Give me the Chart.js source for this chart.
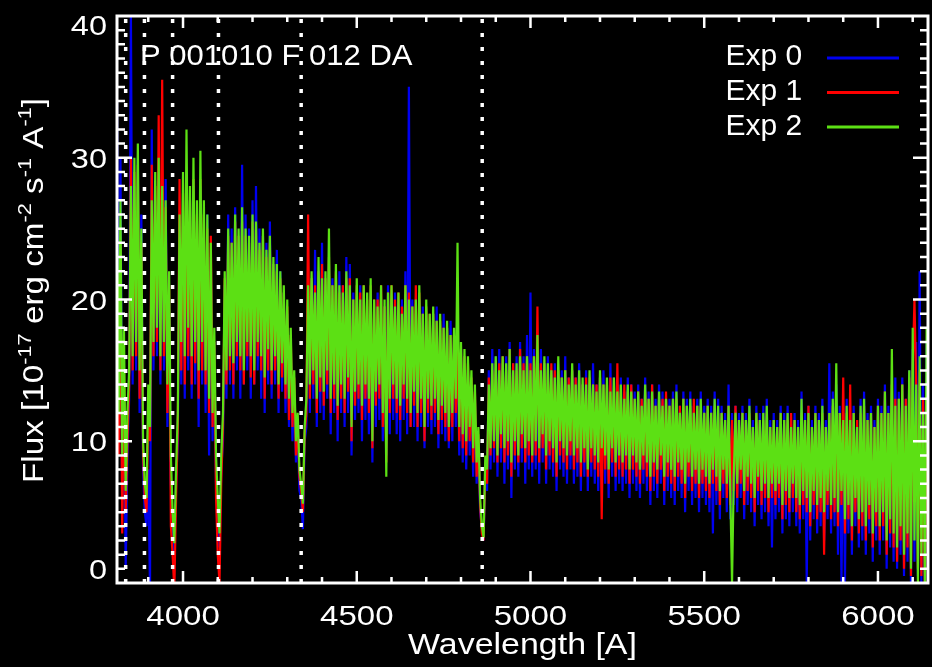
<!DOCTYPE html>
<html>
<head>
<meta charset="utf-8">
<title>P 001010 F 012 DA</title>
<script src="https://cdn.jsdelivr.net/npm/chart.js@4.4.1/dist/chart.umd.min.js"></script>
<style>
  html, body { margin: 0; padding: 0; background: #000; }
  #spec { display: block; }
</style>
</head>
<body>
<canvas id="spec" width="932" height="667"></canvas>
<script>
// ===== SPECTRUM DATA =====
// flux in 1e-17 erg/cm^2/s/A, one sample every 5 A from 3810 A
// (each row is 50 A)
const lambdaStart = 3810;
const lambdaStep = 5;

const fluxExp0 = [
  34, 10, 30, 5, 14, 1, 9, 13, 40.5, 14,
  28, 15, 30, 12, 26, 8, 5, 4, 8, -0.5,
  32, 15, 27, 16, 29, 14, 26, 15, 28.5, 11,
  20, 7, 4, 2, 7, 10, 25, 14, 27, 13,
  29, 15, 27, 13, 28, 14, 25.5, 11, 28, 14,
  25, 12, 26, 9, 23, 10, 17, 7, 5, 2.5,
  8, 10, 21, 13, 26, 14, 25, 13, 26.5, 15,
  24, 13, 29.5, 14, 26, 15, 25, 13, 27, 14,
  28, 15, 25, 13, 24.5, 12, 24, 14, 25.5, 13,
  22.5, 14, 23.5, 12, 22, 13.5, 20.5, 12, 19, 11,
  17, 10, 14, 8.5, 11, 6.5, 6, 3.8, 10, 11,
  20, 12, 21.5, 13, 23.5, 11, 22, 12, 24, 11.5,
  21, 13, 22.5, 10.5, 21.5, 12, 21, 10, 22, 12,
  21, 11, 23, 12, 22.5, 9, 20.5, 11.5, 20, 12,
  21, 10, 20, 11.5, 19.5, 10.5, 20.5, 8.5, 19.5, 11,
  20.5, 11.5, 20, 10, 19.5, 9, 21, 10.5, 20, 11.5,
  20.5, 10.5, 19.5, 10, 20, 11.5, 22, 10.5, 35, 11,
  20, 11, 19, 10, 20, 11, 19.5, 9.5, 19, 11,
  18.5, 10.5, 19, 11, 19.5, 9.5, 18, 10.5, 19, 10,
  18, 9.5, 18.5, 10, 17.5, 11, 17, 9, 16.5, 8.5,
  16, 8, 15, 9, 14, 7.5, 13, 7, 10, 5,
  4, 3, 8, 6.5, 15, 8, 16.5, 8.5, 16, 7.5,
  16.5, 8.5, 15.5, 7, 16, 8, 17, 6, 15.5, 8,
  16, 7.5, 17, 8.5, 16, 7, 17.5, 8, 20.5, 7.5,
  16.5, 8, 16, 7, 16.5, 8.5, 15.5, 7, 16, 8,
  15, 7.5, 15.5, 6.5, 14.5, 8, 15, 7.5, 16, 7,
  14.5, 8, 15, 7, 14.5, 7.5, 15.5, 6.5, 14, 7.5,
  15, 6.5, 14, 7.5, 15.5, 7, 14, 6.5, 14.5, 7.5,
  15, 7, 14, 6, 15.5, 7.5, 14.5, 6.5, 14, 7,
  14.5, 6.5, 13.5, 7, 14.5, 6, 14, 7, 13.5, 6.5,
  14, 6, 13, 7, 14.5, 6.5, 13.5, 5.5, 14, 6.5,
  13, 6, 14, 7, 13.5, 5.5, 13, 6.5, 13, 6,
  13.5, 5.5, 14, 6.5, 12.5, 6, 13.5, 5, 13, 6.5,
  13.5, 5.5, 12.5, 6, 13, 5, 13.5, 6, 12.5, 5.5,
  13, 5, 12.5, 3.5, 13.5, 5.5, 13, 4.5, 12.5, 6,
  12, 5, 14, 4.5, 12, 5.5, 12.5, 5, 12, 6,
  12.5, 4.5, 12, 5.5, 13, 5, 11.5, 4, 12.5, 5.5,
  12, 4.5, 12.5, 5, 13, 4, 11.5, 2.5, 12, 4.5,
  11.5, 5, 12.5, 3.5, 12, 4.5, 12.5, 4, 11.5, 5,
  12, 4, 11.5, 3.5, 13.5, 4.5, 12, 0, 12.5, 3,
  11.5, 4.5, 12.5, 3.5, 12, 4, 13, 3, 11.5, 4.5,
  15.5, 3.5, 13.5, 4, 14, 2, 12.5, 0, 12, 0,
  13, 3.5, 12, 2, 12.5, 4, 11.5, 2.5, 13, 3,
  13.5, 2, 12, 3.5, 12.5, 1.5, 11.5, 3, 13, 2,
  12.5, 3, 14, 1, 12.5, 2.5, 13, 1.5, 14.5, 1,
  13.5, 2, 14.5, 0.5, 13, 1.5, 15, 0, 16.5, 1.5,
  17, 0.5, 22, 0, 14, 0, 17
];

const fluxExp1 = [
  22, 9, 24, 3.5, 15, 5, 10, 14, 30, 15,
  29, 16, 29.5, 13, 24, 9, 6, 5, 12, 10,
  29.5, 16, 28, 17, 33, 15, 35.5, 16, 26.5, 12,
  21, 4, 2, -0.5, 6, 11, 28.5, 15, 27.5, 14,
  28, 16, 27, 14, 28.5, 15.5, 26, 13, 28.5, 15,
  26, 14, 25, 12, 24.5, 11, 17, 6, 2, 0,
  7, 11, 21.5, 14, 24.5, 15, 24, 14, 25.5, 16,
  24.5, 15, 25.5, 14, 24.5, 16, 24, 14.5, 25.5, 14,
  25, 16, 23.5, 15, 24.5, 13, 23, 15, 24, 14,
  22.5, 15, 22, 13, 21.5, 14.5, 20.5, 13, 19.5, 11.5,
  17.5, 11, 14.5, 9, 11.5, 7.5, 6.5, 5, 10.5, 12,
  26, 13, 21.5, 14, 21, 12, 22, 13.5, 22.5, 12.5,
  21.5, 14, 23, 12, 21, 13, 22, 11.5, 20.5, 13,
  21, 12, 21.5, 13.5, 21.5, 10, 20, 12.5, 21, 13,
  20.5, 11.5, 21, 13, 20, 12, 21, 9.5, 20, 12.5,
  20, 13, 21, 11, 19.5, 8.5, 20.5, 12, 21, 13,
  20, 12, 20.5, 11.5, 19.5, 13, 21, 12, 20.5, 11,
  19.5, 12.5, 21, 11, 20.5, 12, 19, 10, 19.5, 12,
  19, 11.5, 19, 12, 18.5, 10.5, 18.5, 11.5, 18, 11,
  18, 10, 17.5, 11, 17.5, 12, 17, 10, 16.5, 9.5,
  16, 9, 15.5, 10, 14.5, 8.5, 13.5, 7.5, 10.5, 5.5,
  3.5, 3, 8.5, 7, 14.5, 9, 15, 9.5, 15.5, 8.5,
  15.5, 9.5, 16, 8.5, 15, 9, 16.5, 7.5, 15.5, 9,
  15, 8.5, 16.5, 9.5, 15.5, 8.5, 16, 9, 15.5, 8.5,
  16, 9, 19.5, 8.5, 15.5, 9.5, 15.5, 8, 15, 9,
  15.5, 8.5, 15, 7.5, 15, 9, 14.5, 8.5, 15, 8,
  14.5, 9, 15, 8, 14.5, 8.5, 14.5, 7.5, 14, 8.5,
  14.5, 7.5, 14.5, 8.5, 14, 8, 14, 7.5, 14.5, 4.5,
  14, 8, 14, 7, 14.5, 8.5, 13.5, 7.5, 15.5, 8,
  13.5, 7.5, 14, 8, 13.5, 7, 14, 8, 13, 7.5,
  13.5, 7, 13, 8, 13.5, 7.5, 13, 6.5, 14, 7.5,
  12.5, 7, 13, 8, 13, 6.5, 13.5, 7.5, 12.5, 7,
  13, 6.5, 13, 7.5, 12.5, 7, 13, 6, 12.5, 7.5,
  12.5, 6.5, 13, 7, 12.5, 6, 12.5, 7, 12, 6.5,
  12.5, 6, 12, 7, 12.5, 6.5, 12, 5.5, 12, 7,
  11.5, 6, 12.5, 5.5, 11.5, 6.5, 12.5, 6, 11.5, 7,
  12, 5.5, 11.5, 6.5, 12, 6, 11, 5, 12, 6.5,
  11.5, 5.5, 11.5, 6, 12, 5, 11, 6, 11.5, 5.5,
  11, 6, 12, 4.5, 11.5, 5.5, 11.5, 5, 12, 6,
  11.5, 5, 11, 4.5, 12, 5.5, 11.5, 5, 12.5, 4,
  11, 5.5, 12, 4.5, 11.5, 5, 12, 2, 11, 5.5,
  12, 4.5, 12.5, 5, 12, 4, 12, 5.5, 14.5, 3.5,
  12, 4.5, 14, 3, 12, 5, 11.5, 3.5, 12, 4,
  12.5, 3, 11.5, 4.5, 12, 2.5, 11, 4, 12.5, 3,
  12, 4, 13.5, 2, 12, 3.5, 14, 2.5, 13, 1.5,
  13, 3, 14, 1, 13, 2.5, 14.5, 0.5, 15, 20,
  14, 1, 15, 0.5, 13, -0.5, 12
];

const fluxExp2 = [
  26, 12, 27, 9, 18, 6.5, 12, 15, 28, 16,
  30, 17, 31, 15, 25, 10, 7, 6, 14, 11,
  27, 17, 29, 18, 30, 16, 28, 17, 27, 14,
  22, 9, 5, 2.8, 8, 12, 26, 17, 29, 16,
  32, 18, 28, 16, 30, 17, 27, 15, 30.5, 17,
  27, 15, 26, 13, 24, 12, 18, 9, 6, 3.5,
  9, 12, 22, 15, 25, 16, 24, 15.5, 26, 17,
  25, 16, 26.5, 15, 25, 17, 24.5, 16, 26, 15,
  25.5, 17, 24, 16, 25, 14.5, 23.5, 16.5, 24.5, 15,
  23, 16, 22.5, 14, 22, 15.5, 21, 14, 20, 13,
  18, 12, 15, 10, 12, 8, 7, 5.6, 11, 13,
  21, 14, 22, 15, 20.5, 13, 23, 14.5, 21.5, 13.5,
  22, 15, 25, 13, 21, 14, 22.5, 12.5, 21, 14,
  20.5, 13, 22, 14.5, 21, 11, 20, 13.5, 21.5, 14,
  20, 12.5, 21, 14, 20.5, 13, 21.5, 10, 20, 13.5,
  19.5, 14, 21, 12, 20, 7.5, 20.5, 13, 21, 14,
  19.5, 13, 20.5, 12.5, 19, 14, 21, 13, 20, 12,
  19.5, 13.5, 20, 12, 21, 13, 19, 11, 20, 13,
  19, 12.5, 19.5, 13, 18.5, 11.5, 19, 12.5, 18, 12,
  18.5, 11, 17.5, 12, 18, 13, 24, 11, 17, 10.5,
  16.5, 10, 16, 11, 15, 9.5, 14, 8.5, 11, 6,
  4, 3.2, 9, 8, 14, 9.5, 15.5, 10, 16, 9,
  15, 10.5, 16, 9.5, 15.5, 10, 16.5, 8.5, 15, 10,
  15.5, 9, 16, 10.5, 15, 9.5, 16, 10, 15, 9,
  16, 10, 17.5, 9.5, 15, 10.5, 16, 9, 15.5, 10,
  15, 9.5, 14.5, 8.5, 16, 10, 14.5, 9.5, 15, 9,
  14, 10, 15.5, 9, 14, 9.5, 15, 8.5, 14.5, 9.5,
  14, 8, 15, 9.5, 14, 9, 13.5, 8.5, 15, 9.5,
  14, 9, 14.5, 8, 13.5, 9.5, 14.5, 8.5, 13.5, 9,
  14, 8.5, 13, 9, 14, 8, 13.5, 9, 13, 8.5,
  13.5, 8, 12.5, 9, 14, 8.5, 13, 7.5, 13.5, 8.5,
  12.5, 8, 13.5, 9, 12.5, 7.5, 13, 8.5, 12.5, 8,
  13, 7.5, 13.5, 8.5, 12, 8, 13, 7, 12.5, 8.5,
  13, 7.5, 12, 8, 12.5, 7, 13, 8, 12, 7.5,
  12.5, 7, 12, 8, 13, 7.5, 12.5, 6.5, 12, 8,
  11.5, 7, 12.5, 6.5, 0, 7.5, 12, 7, 11.5, 8,
  12, 6.5, 11.5, 7.5, 12.5, 7, 11, 6, 12, 7.5,
  11.5, 6.5, 12, 7, 12.5, 6, 11, 7, 11.5, 6.5,
  11, 7, 12, 5.5, 11.5, 6.5, 12, 6, 11, 7,
  11.5, 6, 11, 5.5, 13, 6.5, 11.5, 6, 12, 5,
  11, 6.5, 12, 5.5, 11.5, 6, 12.5, 5, 11, 6.5,
  12, 5.5, 13, 6, 15.5, 5, 12, 6.5, 11.5, 4.5,
  12.5, 5.5, 11.5, 4, 12, 6, 11, 4.5, 12.5, 5,
  13, 4, 11.5, 5.5, 12, 3.5, 11, 5, 12.5, 4,
  12, 5, 13.5, 3, 12, 4.5, 16.5, 3.5, 12.5, 2.5,
  13, 4, 14, 2, 12.5, 3.5, 15, 1, 18, 3,
  14, 0, 16, 2, 12, 0, 18
];

const wavelength = fluxExp2.map((_, i) => lambdaStart + i * lambdaStep);

// Balmer lines, drawn as dotted verticals
const balmerLines = [3835, 3889, 3970, 4102, 4340, 4861];

const xTickValues = [4000, 4500, 5000, 5500, 6000];
const xTickLabels = ['4000', '4500', '5000', '5500', '6000'];
const yTickValues = [0, 10, 20, 30, 40];
const yTickLabels = ['0', '10', '20', '30', '40'];

const expLabels = ['Exp 0', 'Exp 1', 'Exp 2'];
const expColors = ['#0000f0', '#ff0000', '#5ce014'];
const plotTitle = 'P 001010 F 012 DA';

const FONT = '"Liberation Sans", Arial, Helvetica, sans-serif';

// ===== HELPERS =====
function stretchText(ctx, text, x, y, size, sx, align) {
  ctx.save();
  ctx.font = size + 'px ' + FONT;
  ctx.textAlign = align || 'left';
  ctx.textBaseline = 'alphabetic';
  ctx.translate(x, y);
  ctx.scale(sx, 1);
  ctx.fillText(text, 0, 0);
  ctx.restore();
}

// rotated y title with superscripts, squeezed to a given length
function drawFluxTitle(ctx, cx, cy, length) {
  const parts = [
    ['Flux [10', 0], ['-17', 1], [' erg cm', 0], ['-2', 1],
    [' s', 0], ['-1', 1], [' A', 0], ['-1', 1], [']', 0]
  ];
  const fontFor = sup => (sup ? 19 : 29) + 'px ' + FONT;
  let total = 0;
  parts.forEach(([t, sup]) => { ctx.font = fontFor(sup); total += ctx.measureText(t).width; });
  ctx.save();
  ctx.translate(cx, cy);
  ctx.rotate(-Math.PI / 2);
  ctx.scale(length / total, 1);
  ctx.textBaseline = 'alphabetic';
  ctx.textAlign = 'left';
  let pos = -total / 2;
  parts.forEach(([t, sup]) => {
    ctx.font = fontFor(sup);
    ctx.fillText(t, pos, sup ? -12 : 0);
    pos += ctx.measureText(t).width;
  });
  ctx.restore();
}

const blackBackground = {
  id: 'blackBackground',
  beforeDraw(chart) {
    const { ctx, width, height } = chart;
    ctx.save();
    ctx.fillStyle = '#000';
    ctx.fillRect(0, 0, width, height);
    ctx.restore();
  }
};

// IDL-style box: frame, inward ticks on all four sides, labels, legend
const idlBox = {
  id: 'idlBox',
  afterDatasetsDraw(chart) {
    const { ctx, chartArea: a, scales: { x, y } } = chart;
    ctx.save();
    ctx.strokeStyle = '#fff';
    ctx.fillStyle = '#fff';

    ctx.lineWidth = 2.5;
    ctx.beginPath();
    for (let w = 3900; w <= 6100; w += 100) {
      const px = x.getPixelForValue(w);
      const len = w % 500 === 0 ? 12 : 6;
      ctx.moveTo(px, a.bottom); ctx.lineTo(px, a.bottom - len);
      ctx.moveTo(px, a.top); ctx.lineTo(px, a.top + len);
    }
    for (let f = 1; f < 40; f++) {
      const py = y.getPixelForValue(f);
      const len = f % 10 === 0 ? 15 : 8;
      ctx.moveTo(a.left, py); ctx.lineTo(a.left + len, py);
      ctx.moveTo(a.right, py); ctx.lineTo(a.right - len, py);
    }
    ctx.stroke();

    ctx.lineWidth = 3;
    ctx.strokeRect(a.left, a.top, a.right - a.left, a.bottom - a.top);

    // tick labels
    xTickValues.forEach((v, i) => {
      stretchText(ctx, xTickLabels[i], x.getPixelForValue(v), 625, 28, 1.18, 'center');
    });
    yTickValues.forEach((v, i) => {
      const py = Math.min(Math.max(y.getPixelForValue(v), a.top + 9), a.bottom - 14);
      stretchText(ctx, yTickLabels[i], 107, py + 10, 28, 1.16, 'right');
    });

    // axis titles
    stretchText(ctx, 'Wavelength [A]', (a.left + a.right) / 2, 654, 29, 1.17, 'center');
    drawFluxTitle(ctx, 43, 290.5, 385);

    // plot title
    stretchText(ctx, plotTitle, 140, 64.7, 30, 1.034, 'left');

    // legend: label then a line sample
    expLabels.forEach((lbl, i) => {
      stretchText(ctx, lbl, 725.5, 65 + 35 * i, 30, 1.0, 'left');
      ctx.strokeStyle = expColors[i];
      ctx.lineWidth = 3;
      ctx.beginPath();
      const ly = 58 + 34.5 * i;
      ctx.moveTo(827, ly); ctx.lineTo(899, ly);
      ctx.stroke();
    });
    ctx.restore();
  }
};

// ===== CHART =====
const spectra = [fluxExp0, fluxExp1, fluxExp2].map((flux, k) => ({
  label: expLabels[k],
  data: flux.map((f, i) => ({ x: wavelength[i], y: f })),
  borderColor: expColors[k],
  borderWidth: 2.2,
  borderJoinStyle: 'bevel',
  pointRadius: 0,
  tension: 0,
  fill: false,
  order: 2 - k
}));

const markers = balmerLines.map(w => ({
  label: 'H ' + w,
  data: [{ x: w, y: 0 }, { x: w, y: 40 }],
  borderColor: '#fff',
  borderWidth: 3.5,
  borderDash: [4, 10],
  pointRadius: 0,
  fill: false,
  order: -1
}));

new Chart(document.getElementById('spec'), {
  type: 'line',
  data: { datasets: [...spectra, ...markers] },
  options: {
    responsive: false,
    devicePixelRatio: 1,
    animation: false,
    events: [],
    layout: { padding: { left: 117, top: 16, right: 4, bottom: 84 } },
    scales: {
      x: { type: 'linear', display: false, min: 3810, max: 6144 },
      y: { type: 'linear', display: false, min: 0, max: 40 }
    },
    plugins: { legend: { display: false }, tooltip: { enabled: false } }
  },
  plugins: [blackBackground, idlBox]
});
</script>
</body>
</html>
